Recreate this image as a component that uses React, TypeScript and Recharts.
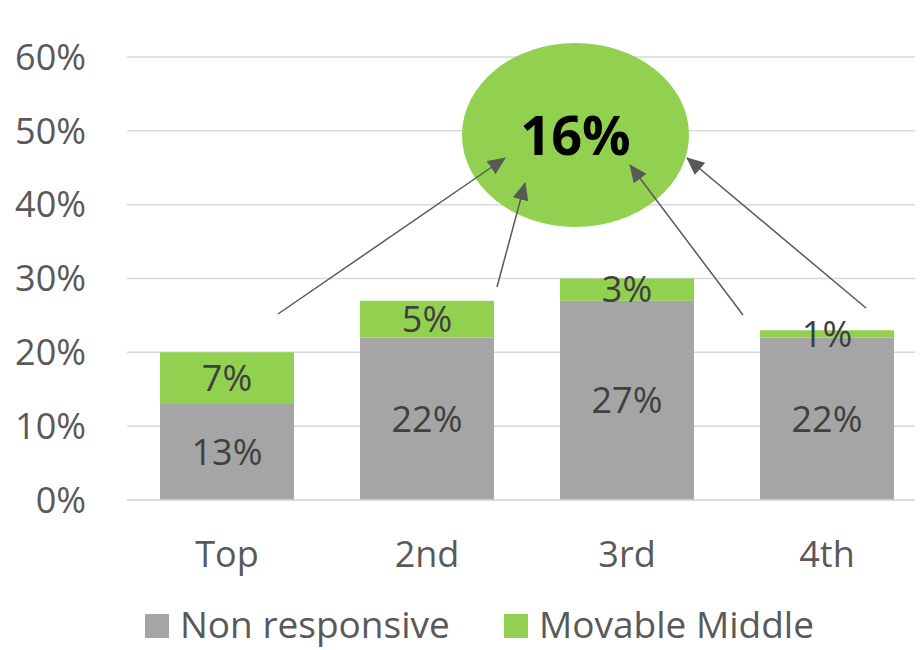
import React from "react";
import { BarChart, Bar, XAxis, YAxis, CartesianGrid, LabelList } from "recharts";

const categories = ["Top", "2nd", "3rd", "4th"];
const nonResponsive = [13, 22, 27, 22];
const movableMiddle = [7, 5, 3, 1];
const yTicks = [0, 10, 20, 30, 40, 50, 60];
const seriesNames = ["Non responsive", "Movable Middle"];
const highlightLabel = "16%";

const GRAY = "#A5A5A5";
const GREEN = "#92D050";
const FONT = "'Open Sans', sans-serif";

const data = categories.map((c, i) => ({
  name: c,
  nonResponsive: nonResponsive[i],
  movableMiddle: movableMiddle[i],
}));

// annotation geometry (svg coordinates of the chart)
const ellipse = { cx: 567.5, cy: 127, rx: 113.5, ry: 92 };
const arrows = [
  { x1: 270, y1: 306, x2: 497, y2: 150 },
  { x1: 489, y1: 279, x2: 517, y2: 175 },
  { x1: 735, y1: 307, x2: 622, y2: 157 },
  { x1: 858, y1: 300, x2: 679, y2: 150 },
];

const pct = (v: number) => `${v}%`;

export default function App() {
  return (
    <div style={{ position: "relative", width: 915, height: 642, overflow: "hidden" }}>
      <BarChart
        width={930}
        height={642}
        data={data}
        margin={{ top: 49, right: 11, left: 0, bottom: 90 }}
        barCategoryGap="16.5%"
      >
        <CartesianGrid vertical={false} stroke="#D9D9D9" strokeWidth={1.5} />
        <XAxis
          dataKey="name"
          axisLine={{ stroke: "#D9D9D9", strokeWidth: 1.5 }}
          tickLine={false}
          tickSize={0}
          tickMargin={41}
          height={60}
          tick={{ fill: "#595959", fontSize: 36, fontFamily: FONT }}
        />
        <YAxis
          domain={[0, 60]}
          ticks={yTicks}
          tickFormatter={pct}
          axisLine={false}
          tickLine={false}
          tickSize={0}
          tickMargin={41}
          width={119}
          tick={{ fill: "#595959", fontSize: 36, fontFamily: FONT }}
        />
        <Bar dataKey="nonResponsive" name={seriesNames[0]} stackId="a" fill={GRAY} isAnimationActive={false}>
          <LabelList dataKey="nonResponsive" position="center" formatter={pct} fill="#404040" fontSize={36} fontFamily={FONT} />
        </Bar>
        <Bar dataKey="movableMiddle" name={seriesNames[1]} stackId="a" fill={GREEN} isAnimationActive={false}>
          <LabelList dataKey="movableMiddle" position="center" formatter={pct} fill="#404040" fontSize={36} fontFamily={FONT} />
        </Bar>
      </BarChart>

      <svg
        width={915}
        height={642}
        style={{ position: "absolute", left: 0, top: 0, pointerEvents: "none" }}
      >
        <defs>
          <marker id="arrowHead" markerUnits="userSpaceOnUse" markerWidth={18} markerHeight={16} refX={17} refY={8} orient="auto">
            <path d="M0,0 L18,8 L0,16 Z" fill="#595959" />
          </marker>
        </defs>
        <ellipse cx={ellipse.cx} cy={ellipse.cy} rx={ellipse.rx} ry={ellipse.ry} fill={GREEN} />
        <text x={ellipse.cx} y={147} textAnchor="middle" fontFamily={FONT} fontWeight={700} fontSize={54} fill="#000">
          {highlightLabel}
        </text>
        {arrows.map((a, i) => (
          <line key={i} x1={a.x1} y1={a.y1} x2={a.x2} y2={a.y2} stroke="#595959" strokeWidth={1.5} markerEnd="url(#arrowHead)" />
        ))}
      </svg>

      {[GRAY, GREEN].map((color, i) => (
        <div
          key={i}
          style={{
            position: "absolute",
            top: 596,
            left: i === 0 ? 137 : 496,
            display: "flex",
            alignItems: "center",
            height: 40,
            fontFamily: FONT,
            fontSize: 37,
            lineHeight: "40px",
            color: "#595959",
            whiteSpace: "nowrap",
          }}
        >
          <span style={{ display: "inline-block", width: 24, height: 24, background: color, marginRight: 11, marginTop: 4 }} />
          <span>{seriesNames[i]}</span>
        </div>
      ))}
    </div>
  );
}
